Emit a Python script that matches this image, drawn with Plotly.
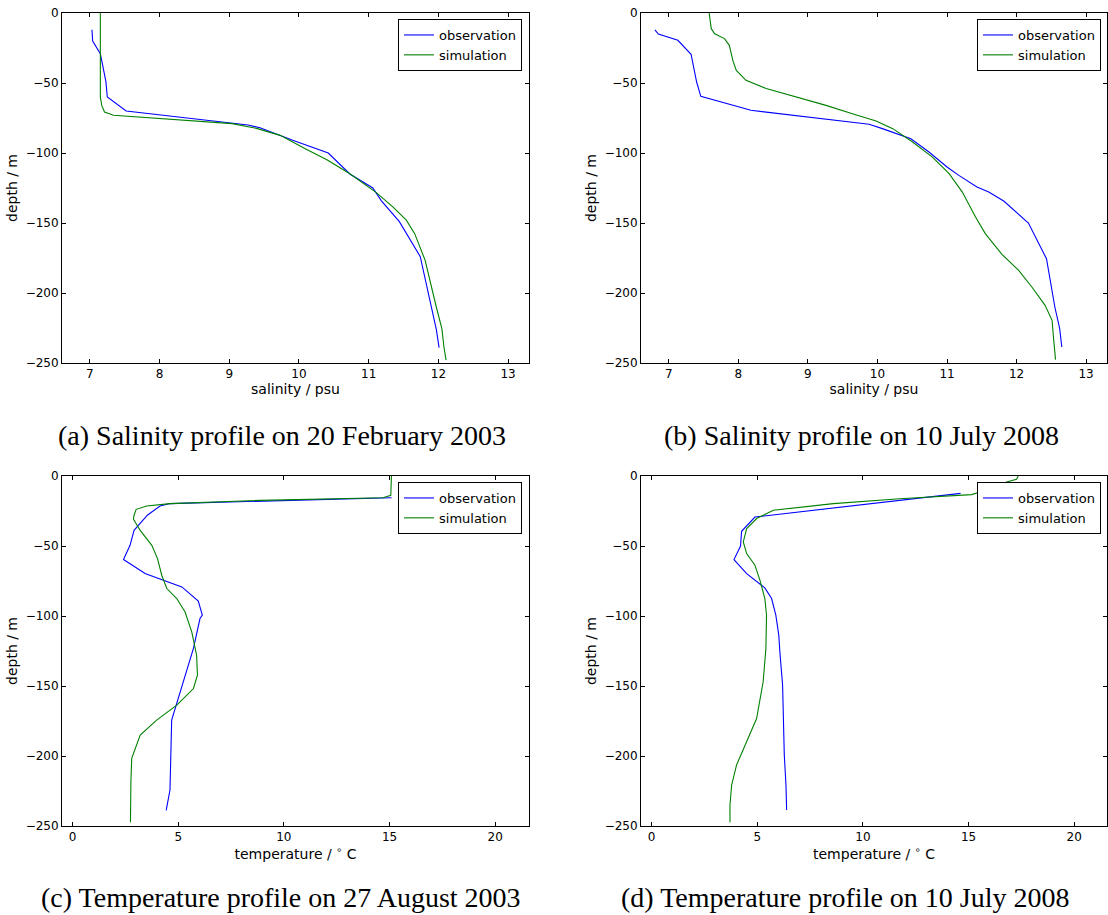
import plotly.graph_objects as go

# ---------------- data ----------------
# (a) salinity, 20 February 2003
a_obs_sal = [7.03, 7.04, 7.15, 7.19, 7.23, 7.25, 7.52, 9.27, 9.44, 9.92, 10.42, 10.73, 11.06, 11.18, 11.44, 11.74, 11.97, 12.01]
a_obs_dep = [-12, -20, -29, -39, -49, -60, -70, -80, -82, -91, -100, -115, -125, -134, -149, -174, -226, -239]
a_sim_sal = [7.15, 7.15, 7.17, 7.21, 7.34, 8.0, 9.04, 9.39, 9.73, 10.09, 10.40, 10.73, 11.11, 11.35, 11.54, 11.66, 11.81, 11.97, 12.05, 12.08, 12.11]
a_sim_dep = [0, -60, -66, -70.7, -73, -75.5, -79, -82.4, -87.4, -97, -104.8, -114.8, -128.3, -138.6, -148, -157.6, -176.7, -210, -225.5, -238.6, -248]

# (b) salinity, 10 July 2008
b_obs_sal = [6.80, 6.85, 7.13, 7.32, 7.40, 7.46, 8.18, 9.88, 10.07, 10.48, 10.74, 11.0, 11.17, 11.43, 11.6, 11.82, 12.17, 12.43, 12.55, 12.62, 12.65]
b_obs_dep = [-12, -15, -19.5, -29.5, -49.3, -59.5, -69.5, -79.5, -82.6, -89.8, -99.3, -110, -116, -124.3, -127.9, -134.5, -150, -175.5, -210, -225.5, -238.6]
b_sim_sal = [7.58, 7.61, 7.66, 7.80, 7.87, 7.92, 7.97, 8.11, 8.40, 8.88, 9.26, 9.64, 9.98, 10.22, 10.50, 10.79, 11.03, 11.22, 11.41, 11.55, 11.79, 12.03, 12.22, 12.41, 12.51, 12.53, 12.56]
b_sim_dep = [0, -11.2, -14.8, -18.3, -23.1, -33.8, -41, -48.1, -54, -60.5, -66, -71.9, -77.1, -82.6, -92, -102.9, -114.8, -127.9, -145.7, -157.6, -172.4, -183.8, -195.7, -208.8, -219.5, -231.4, -247.6]

# (c) temperature, 27 August 2003
c_obs_tmp = [15.09, 4.61, 4.14, 3.54, 2.91, 2.72, 2.41, 3.43, 5.17, 5.95, 6.14, 6.03, 5.72, 4.69, 4.61, 4.43]
c_obs_dep = [-15.5, -19.7, -21.4, -28, -38.8, -49.5, -59.7, -69.7, -79.2, -89.4, -99.4, -101.8, -123.2, -174.4, -224.3, -238.8]
c_sim_tmp = [15.09, 15.06, 14.69, 8.87, 4.61, 3.51, 3.01, 2.91, 2.88, 3.20, 3.75, 4.02, 4.22, 4.46, 4.93, 5.32, 5.64, 5.87, 5.91, 5.72, 4.93, 3.98, 3.20, 2.80, 2.76, 2.74]
c_sim_dep = [0, -13.8, -15.5, -17.4, -19.7, -21.4, -23.8, -28, -30.9, -38.8, -49.5, -59, -70.9, -80.4, -87.5, -97, -111.3, -128, -142.2, -151.8, -163.7, -174.4, -185, -201.7, -218.4, -247.4]

# (d) temperature, 10 July 2008
d_obs_tmp = [14.62, 4.89, 4.26, 4.21, 3.90, 4.50, 5.36, 5.68, 5.88, 6.02, 6.07, 6.20, 6.28, 6.36, 6.39]
d_obs_dep = [-12.4, -29.3, -39.5, -50, -59.7, -69.7, -79.9, -87.5, -99.4, -113.7, -125.6, -149.4, -199.3, -220.7, -238.6]
d_sim_tmp = [17.35, 17.27, 16.80, 16.1, 15.14, 11.75, 8.6, 5.76, 4.97, 4.50, 4.34, 4.50, 4.89, 5.13, 5.36, 5.44, 5.41, 5.28, 4.97, 4.50, 4.02, 3.79, 3.71, 3.71]
d_sim_dep = [0, -2.4, -4.3, -9, -13.3, -16.2, -19.7, -24.5, -30.4, -37.6, -47.1, -55.4, -63.7, -74.5, -87.5, -99.4, -123.2, -147, -173.2, -189.8, -206.5, -220.7, -235, -247.4]

captions = ["(a) Salinity profile on 20 February 2003",
            "(b) Salinity profile on 10 July 2008",
            "(c) Temperature profile on 27 August 2003",
            "(d) Temperature profile on 10 July 2008"]
series_names = ["observation", "simulation"]

# ---------------- layout helpers ----------------
W, H = 1108, 915
BLUE, GREEN = "#0000ff", "#008000"
TICKFONT = dict(family="DejaVu Sans", size=12, color="black")
TITLEFONT = dict(family="DejaVu Sans", size=14, color="black")

def px(x):
    return x / W

def py(y):
    return 1 - y / H

panels = [
    dict(obs=(a_obs_sal, a_obs_dep), sim=(a_sim_sal, a_sim_dep), xd=(62, 529), yd=(13, 363),
         xr=[6.6, 13.3], dt=1, t0=7, xt="salinity / psu", leg=(522, 19)),
    dict(obs=(b_obs_sal, b_obs_dep), sim=(b_sim_sal, b_sim_dep), xd=(641, 1107), yd=(13, 363),
         xr=[6.6, 13.3], dt=1, t0=7, xt="salinity / psu", leg=(1101, 19)),
    dict(obs=(c_obs_tmp, c_obs_dep), sim=(c_sim_tmp, c_sim_dep), xd=(62, 529), yd=(476, 826),
         xr=[-0.5, 21.6], dt=5, t0=0, xt="temperature / <sup>∘</sup> C", leg=(522, 482)),
    dict(obs=(d_obs_tmp, d_obs_dep), sim=(d_sim_tmp, d_sim_dep), xd=(641, 1107), yd=(476, 826),
         xr=[-0.5, 21.55], dt=5, t0=0, xt="temperature / <sup>∘</sup> C", leg=(1101, 482)),
]

fig = go.Figure()
layout = dict(width=W, height=H, margin=dict(l=0, r=0, t=0, b=0, autoexpand=False),
              paper_bgcolor="white", plot_bgcolor="white", annotations=[])

for i, p in enumerate(panels):
    n = "" if i == 0 else str(i + 1)
    lg = "legend" if i == 0 else f"legend{i + 1}"
    for (xs, ys), name, col in ((p["obs"], series_names[0], BLUE), (p["sim"], series_names[1], GREEN)):
        fig.add_trace(go.Scatter(x=xs, y=ys, mode="lines", name=name,
                                 line=dict(color=col, width=1.1),
                                 xaxis="x" + n, yaxis="y" + n, legend=lg, showlegend=True))
    axcommon = dict(showline=True, linecolor="black", linewidth=1, mirror="allticks",
                    ticks="inside", ticklen=4, tickcolor="black", showgrid=False,
                    zeroline=False, tickfont=TICKFONT, automargin=False)
    layout["xaxis" + n] = dict(domain=[px(p["xd"][0]), px(p["xd"][1])], range=p["xr"],
                               anchor="y" + n, tick0=p["t0"], dtick=p["dt"],
                               title=dict(text=p["xt"], font=TITLEFONT, standoff=0),
                               **axcommon)
    layout["yaxis" + n] = dict(domain=[py(p["yd"][1]), py(p["yd"][0])], range=[-250, 0],
                               anchor="x" + n, tick0=0, dtick=50,
                               title=dict(text="depth / m", font=TITLEFONT, standoff=4),
                               **axcommon)
    layout[lg] = dict(x=px(p["leg"][0]), y=py(p["leg"][1]), xanchor="right", yanchor="top",
                      xref="paper", yref="paper", bgcolor="white", bordercolor="black",
                      borderwidth=1, font=dict(family="DejaVu Sans", size=13, color="black"),
                      tracegroupgap=0, itemwidth=30)

cap_pos = [(282, 435), (861, 435), (281, 897), (845, 897)]
for txt, (cx, cy) in zip(captions, cap_pos):
    layout["annotations"].append(dict(text=txt, x=px(cx), y=py(cy), xref="paper", yref="paper",
                                      xanchor="center", yanchor="middle", showarrow=False,
                                      font=dict(family="Liberation Serif", size=28, color="black")))

fig.update_layout(**layout)
fig.write_html("out.html")
